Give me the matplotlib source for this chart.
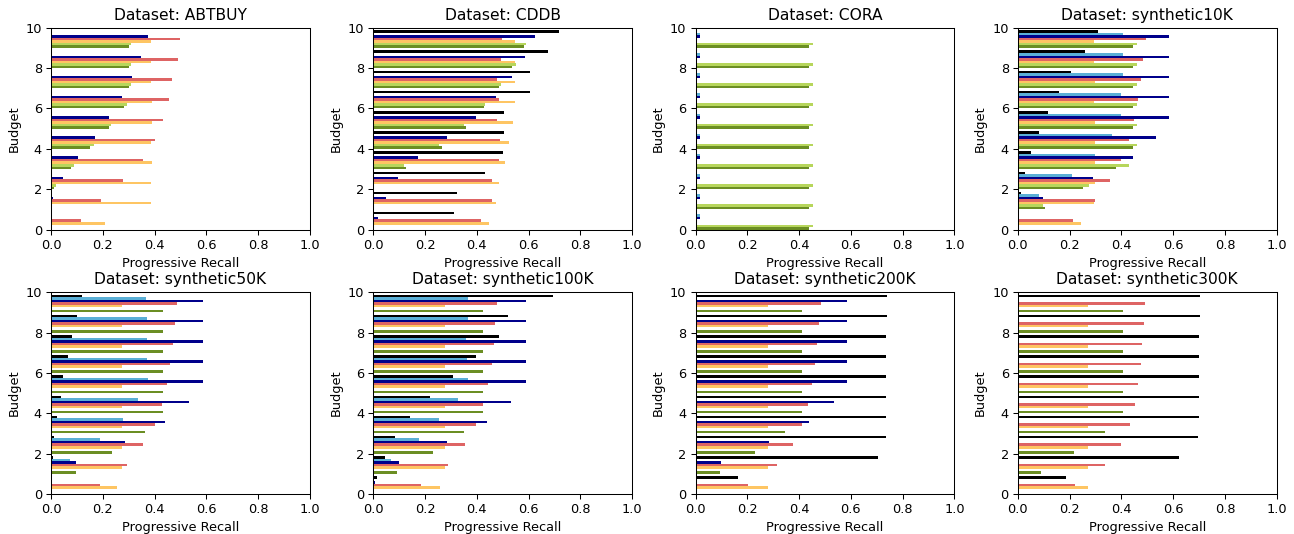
import numpy as np
import matplotlib
matplotlib.use('Agg')
import matplotlib.pyplot as plt

# budget levels (one group of bars per level)
budgets = np.arange(10)

datasets = ['ABTBUY', 'CDDB', 'CORA', 'synthetic10K',
            'synthetic50K', 'synthetic100K', 'synthetic200K', 'synthetic300K']

series_names = ['s1', 's2', 's3', 's4', 's5', 's6', 's7']
series_colors = ['#6b8e23', '#b7d65c', '#fec563', '#de6464', '#00008b', '#5aafd6', '#000000']

zeros = [0] * 10

# ABTBUY
abtbuy_s1 = [0, 0, 0.010, 0.076, 0.152, 0.223, 0.283, 0.300, 0.300, 0.300]
abtbuy_s2 = [0, 0, 0.018, 0.088, 0.165, 0.232, 0.292, 0.309, 0.309, 0.309]
abtbuy_s3 = [0.210, 0.387, 0.387, 0.390, 0.387, 0.390, 0.390, 0.387, 0.387, 0.387]
abtbuy_s4 = [0.115, 0.193, 0.280, 0.357, 0.400, 0.432, 0.455, 0.468, 0.490, 0.499]
abtbuy_s5 = [0, 0.006, 0.048, 0.106, 0.170, 0.226, 0.273, 0.313, 0.348, 0.374]
abtbuy_s6 = zeros
abtbuy_s7 = zeros

# CDDB
cddb_s1 = [0, 0, 0, 0.128, 0.265, 0.360, 0.427, 0.486, 0.537, 0.581]
cddb_s2 = [0, 0, 0, 0.117, 0.254, 0.350, 0.433, 0.495, 0.550, 0.591]
cddb_s3 = [0.446, 0.476, 0.486, 0.509, 0.526, 0.540, 0.546, 0.546, 0.546, 0.546]
cddb_s4 = [0.418, 0.459, 0.459, 0.486, 0.490, 0.479, 0.485, 0.479, 0.492, 0.496]
cddb_s5 = [0.017, 0.048, 0.094, 0.171, 0.285, 0.396, 0.476, 0.537, 0.587, 0.623]
cddb_s6 = zeros
cddb_s7 = [0.312, 0.325, 0.431, 0.501, 0.505, 0.505, 0.604, 0.604, 0.675, 0.717]

# CORA
cora_s1 = [0.440] * 10
cora_s2 = [0.453] * 10
cora_s3 = zeros
cora_s4 = [0.004] * 10
cora_s5 = [0.019] * 10
cora_s6 = [0.019] * 10
cora_s7 = zeros

# synthetic10K
syn10k_s1 = [0, 0.106, 0.253, 0.381, 0.444, 0.444, 0.444, 0.444, 0.444, 0.444]
syn10k_s2 = [0, 0.098, 0.276, 0.430, 0.461, 0.461, 0.461, 0.461, 0.461, 0.461]
syn10k_s3 = [0.245, 0.293, 0.297, 0.297, 0.297, 0.297, 0.293, 0.297, 0.293, 0.293]
syn10k_s4 = [0.213, 0.297, 0.357, 0.397, 0.428, 0.450, 0.466, 0.474, 0.484, 0.494]
syn10k_s5 = [0.004, 0.098, 0.290, 0.444, 0.535, 0.585, 0.585, 0.585, 0.585, 0.585]
syn10k_s6 = [0, 0.083, 0.209, 0.297, 0.362, 0.397, 0.400, 0.407, 0.407, 0.407]
syn10k_s7 = [0, 0.013, 0.027, 0.050, 0.080, 0.115, 0.158, 0.205, 0.258, 0.310]

# synthetic50K
syn50k_s1 = [0, 0.098, 0.237, 0.365, 0.432, 0.432, 0.432, 0.432, 0.432, 0.432]
syn50k_s2 = zeros
syn50k_s3 = [0.256, 0.273, 0.273, 0.273, 0.273, 0.273, 0.273, 0.273, 0.273, 0.273]
syn50k_s4 = [0.189, 0.293, 0.357, 0.401, 0.428, 0.447, 0.461, 0.472, 0.478, 0.486]
syn50k_s5 = [0.005, 0.098, 0.287, 0.441, 0.535, 0.589, 0.589, 0.589, 0.589, 0.589]
syn50k_s6 = [0, 0.072, 0.188, 0.277, 0.336, 0.374, 0.371, 0.371, 0.371, 0.367]
syn50k_s7 = [0.004, 0.006, 0.013, 0.024, 0.039, 0.048, 0.066, 0.082, 0.099, 0.119]

# synthetic100K
syn100k_s1 = [0, 0.090, 0.231, 0.352, 0.423, 0.423, 0.423, 0.423, 0.423, 0.423]
syn100k_s2 = zeros
syn100k_s3 = [0.258, 0.276, 0.276, 0.276, 0.276, 0.276, 0.276, 0.276, 0.276, 0.276]
syn100k_s4 = [0.184, 0.290, 0.356, 0.398, 0.425, 0.443, 0.458, 0.465, 0.472, 0.479]
syn100k_s5 = [0.005, 0.098, 0.285, 0.440, 0.533, 0.590, 0.590, 0.590, 0.590, 0.590]
syn100k_s6 = [0, 0.067, 0.176, 0.254, 0.326, 0.365, 0.361, 0.360, 0.365, 0.365]
syn100k_s7 = [0.014, 0.044, 0.085, 0.141, 0.221, 0.308, 0.398, 0.486, 0.522, 0.694]

# synthetic200K
syn200k_s1 = [0, 0.094, 0.228, 0.345, 0.413, 0.413, 0.413, 0.413, 0.413, 0.413]
syn200k_s2 = zeros
syn200k_s3 = [0.279] * 10
syn200k_s4 = [0.201, 0.313, 0.375, 0.413, 0.436, 0.449, 0.462, 0.468, 0.476, 0.483]
syn200k_s5 = [0.006, 0.100, 0.284, 0.439, 0.533, 0.587, 0.587, 0.587, 0.587, 0.587]
syn200k_s6 = zeros
syn200k_s7 = [0.165, 0.704, 0.734, 0.737, 0.737, 0.737, 0.737, 0.737, 0.741, 0.741]

# synthetic300K
syn300k_s1 = [0, 0.088, 0.218, 0.337, 0.407, 0.407, 0.407, 0.407, 0.407, 0.407]
syn300k_s2 = zeros
syn300k_s3 = [0.271] * 10
syn300k_s4 = [0.222, 0.335, 0.397, 0.432, 0.451, 0.465, 0.474, 0.481, 0.488, 0.492]
syn300k_s5 = zeros
syn300k_s6 = zeros
syn300k_s7 = [0.186, 0.623, 0.698, 0.700, 0.700, 0.700, 0.700, 0.700, 0.703, 0.703]

all_series = [
    [abtbuy_s1, abtbuy_s2, abtbuy_s3, abtbuy_s4, abtbuy_s5, abtbuy_s6, abtbuy_s7],
    [cddb_s1, cddb_s2, cddb_s3, cddb_s4, cddb_s5, cddb_s6, cddb_s7],
    [cora_s1, cora_s2, cora_s3, cora_s4, cora_s5, cora_s6, cora_s7],
    [syn10k_s1, syn10k_s2, syn10k_s3, syn10k_s4, syn10k_s5, syn10k_s6, syn10k_s7],
    [syn50k_s1, syn50k_s2, syn50k_s3, syn50k_s4, syn50k_s5, syn50k_s6, syn50k_s7],
    [syn100k_s1, syn100k_s2, syn100k_s3, syn100k_s4, syn100k_s5, syn100k_s6, syn100k_s7],
    [syn200k_s1, syn200k_s2, syn200k_s3, syn200k_s4, syn200k_s5, syn200k_s6, syn200k_s7],
    [syn300k_s1, syn300k_s2, syn300k_s3, syn300k_s4, syn300k_s5, syn300k_s6, syn300k_s7],
]

bar_h = 0.125
dpi = 93

fig, axes = plt.subplots(2, 4, figsize=(1294 / dpi, 534 / dpi), dpi=dpi)
plt.subplots_adjust(left=0.0394, right=0.9866, top=0.948, bottom=0.075,
                    wspace=0.245, hspace=0.31)

for ax, name, series in zip(axes.flat, datasets, all_series):
    for i, vals in enumerate(series):
        ax.barh(budgets + i * bar_h, vals, height=bar_h, align='edge',
                color=series_colors[i], label=series_names[i])
    ax.set_xlim(0, 1)
    ax.set_ylim(0, 10)
    ax.set_title(f"Dataset: {name}")
    ax.set_xlabel("Progressive Recall")
    ax.set_ylabel("Budget")

plt.savefig('out.png', dpi=dpi)
